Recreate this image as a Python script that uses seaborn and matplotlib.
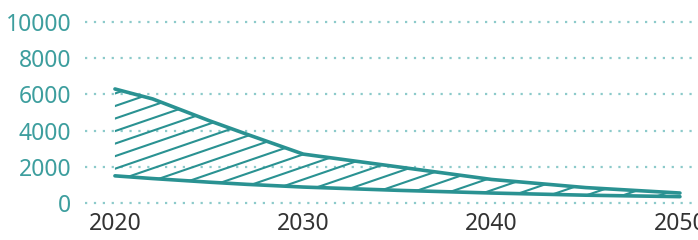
import numpy as np
import pandas as pd
import matplotlib
matplotlib.use("Agg")
import matplotlib.pyplot as plt
import seaborn as sns

# values
years = [2020, 2022, 2025, 2027, 2030, 2035, 2040, 2045, 2050]
upper = [6300, 5750, 4550, 3800, 2700, 2000, 1300, 850, 550]
lower = [1500, 1350, 1150, 1030, 880, 700, 550, 430, 350]
yticks = [0, 2000, 4000, 6000, 8000, 10000]
xticks = [2020, 2030, 2040, 2050]

teal = "#2a9292"
teal_txt = "#3d9e9e"
grid_col = "#8ccaca"

sns.set_theme(style="white")
plt.rcParams["font.family"] = ["Noto Sans", "DejaVu Sans"]

df = pd.DataFrame({"year": years, "upper": upper, "lower": lower})

fig = plt.figure(figsize=(6.98, 2.40), dpi=100)
ax = fig.add_axes([85 / 698, 0.1354, 610 / 698, 0.7917])

sns.lineplot(data=df, x="year", y="upper", color=teal, linewidth=2.6, ax=ax)
sns.lineplot(data=df, x="year", y="lower", color=teal, linewidth=2.6, ax=ax)

# hatched area between the two lines
poly = ax.fill_between(years, lower, upper, facecolor="none", edgecolor="none")
clip = poly.get_paths()[0]
for off in np.arange(-1.5, 1.2, 0.066):
    xs = np.array([0.0, 1.0])
    ys = off + xs * 1.1
    ln, = ax.plot(xs, ys, transform=ax.transAxes, color=teal, linewidth=1.5)
    ln.set_clip_path(clip, ax.transData)

ax.set_xlim(2018.41, 2050.8)
ax.set_ylim(-250, 10250)
ax.set_yticks(yticks)
ax.set_xticks(xticks)
ax.set_xlabel("")
ax.set_ylabel("")
ax.yaxis.grid(True, color=grid_col, linestyle=(0, (1, 3)), linewidth=1.6)
ax.xaxis.grid(False)
sns.despine(ax=ax, left=True, bottom=True)
ax.tick_params(axis="y", length=0, pad=10, labelsize=16.5, labelcolor=teal_txt)
ax.tick_params(axis="x", length=0, pad=3, labelsize=16.5, labelcolor="#333333")

fig.savefig("out.png", dpi=100)
